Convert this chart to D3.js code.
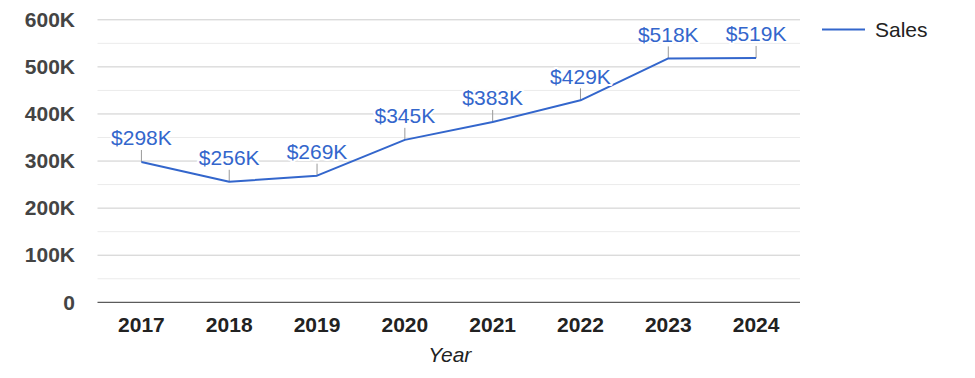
<!DOCTYPE html>
<html>
<head>
<meta charset="utf-8">
<script src="https://cdn.jsdelivr.net/npm/d3@7"></script>
<style>
  html, body { margin: 0; padding: 0; background: #fff; }
  svg { display: block; font-family: Arial, "Liberation Sans", sans-serif; }
</style>
</head>
<body>
<svg id="chart" width="975" height="378"></svg>
<script>
const years = ["2017", "2018", "2019", "2020", "2021", "2022", "2023", "2024"];
const sales = [298000, 256000, 269000, 345000, 383000, 429000, 518000, 519000];
const yTicks = [0, 100000, 200000, 300000, 400000, 500000, 600000];
const yMinorTicks = [50000, 150000, 250000, 350000, 450000, 550000];
const seriesName = "Sales";
const xTitle = "Year";

(function () {
const svg = d3.select("#chart");
const plotLeft = 97.5, plotRight = 800, plotTop = 19.8, plotBottom = 302.3;
const blue = "#3366cc";

const x = d3.scaleBand().domain(years).range([plotLeft, plotRight]);
const y = d3.scaleLinear().domain([0, 600000]).range([plotBottom, plotTop]);
const cx = d => x(d) + x.bandwidth() / 2;

// minor gridlines
svg.append("g").selectAll("line").data(yMinorTicks).join("line")
  .attr("x1", plotLeft).attr("x2", plotRight)
  .attr("y1", d => y(d)).attr("y2", d => y(d))
  .attr("stroke", "#ebebeb").attr("stroke-width", 1);

// major gridlines
svg.append("g").selectAll("line").data(yTicks.filter(d => d > 0)).join("line")
  .attr("x1", plotLeft).attr("x2", plotRight)
  .attr("y1", d => y(d)).attr("y2", d => y(d))
  .attr("stroke", "#cccccc").attr("stroke-width", 1);

// y axis labels
const yAxis = svg.append("g").attr("transform", `translate(${plotLeft},0)`)
  .call(d3.axisLeft(y).tickValues(yTicks).tickSize(0).tickPadding(22.5)
    .tickFormat(d => d === 0 ? "0" : (d / 1000) + "K"));
yAxis.select(".domain").remove();
yAxis.selectAll("text").attr("font-size", 21).attr("font-weight", "bold")
  .attr("fill", "#444").attr("font-family", "Arial, 'Liberation Sans', sans-serif");

// x axis
const xAxis = svg.append("g").attr("transform", `translate(0,${plotBottom})`)
  .call(d3.axisBottom(x).tickSize(0).tickPadding(14.3));
xAxis.select(".domain").remove();
xAxis.selectAll("text").attr("font-size", 21).attr("font-weight", "bold")
  .attr("fill", "#222").attr("font-family", "Arial, 'Liberation Sans', sans-serif");

// baseline
svg.append("line").attr("x1", plotLeft).attr("x2", plotRight)
  .attr("y1", y(0)).attr("y2", y(0)).attr("stroke", "#333").attr("stroke-width", 1);

// x title
svg.append("text").attr("x", (plotLeft + plotRight) / 2 + 1).attr("y", 362)
  .attr("text-anchor", "middle").attr("font-size", 21).attr("font-style", "italic")
  .attr("fill", "#222").text(xTitle);

// leader lines
svg.append("g").selectAll("line").data(years).join("line")
  .attr("x1", d => cx(d)).attr("x2", d => cx(d))
  .attr("y1", (d, i) => y(sales[i]) - 12).attr("y2", (d, i) => y(sales[i]))
  .attr("stroke", "#999").attr("stroke-width", 1);

// line
const line = d3.line().x((d, i) => cx(years[i])).y(d => y(d));
svg.append("path").datum(sales).attr("d", line)
  .attr("fill", "none").attr("stroke", blue).attr("stroke-width", 2)
  .attr("stroke-linejoin", "round");

// data labels
svg.append("g").selectAll("text").data(years).join("text")
  .attr("x", d => cx(d)).attr("y", (d, i) => y(sales[i]) - 16.5)
  .attr("text-anchor", "middle").attr("font-size", 21)
  .attr("fill", blue).attr("stroke", "#fff").attr("stroke-width", 4)
  .attr("paint-order", "stroke").attr("stroke-linejoin", "round")
  .text((d, i) => "$" + Math.round(sales[i] / 1000) + "K");

// legend
svg.append("line").attr("x1", 822).attr("x2", 865).attr("y1", 29.5).attr("y2", 29.5)
  .attr("stroke", blue).attr("stroke-width", 2);
svg.append("text").attr("x", 875).attr("y", 37).attr("font-size", 21)
  .attr("fill", "#222").text(seriesName);
})();
</script>
</body>
</html>
